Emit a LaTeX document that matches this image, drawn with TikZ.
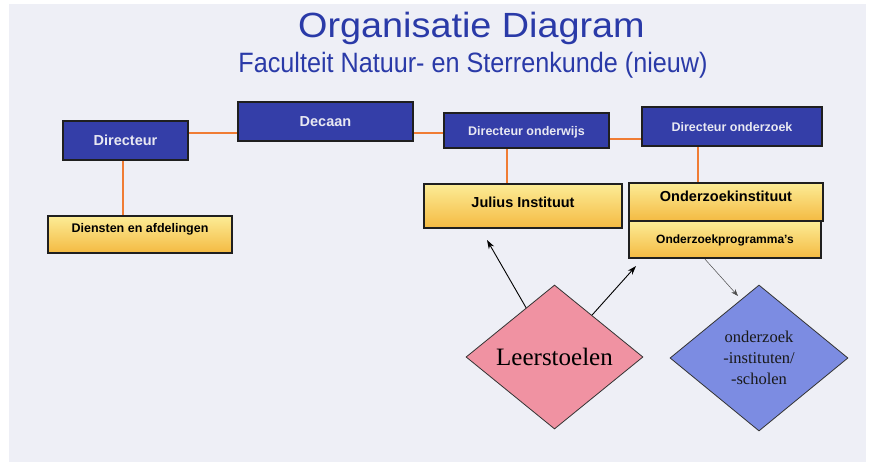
\documentclass[tikz,border=0pt]{standalone}
\usepackage{fontspec}
\setmainfont{Liberation Serif}
\setsansfont{Liberation Sans}
\usetikzlibrary{arrows.meta,shapes.geometric,positioning}
\tikzset{>={Stealth[width=6pt,length=9pt]}}

\definecolor{bgpaper}{RGB}{238,239,246}
\definecolor{titleblue}{RGB}{42,58,168}
\definecolor{boxblue}{RGB}{52,62,168}
\definecolor{boxtext}{RGB}{232,232,242}
\definecolor{goldtop}{RGB}{252,236,150}
\definecolor{goldbot}{RGB}{244,186,66}
\definecolor{linkorange}{RGB}{240,124,52}
\definecolor{leerpink}{RGB}{240,146,162}
\definecolor{onzblue}{RGB}{124,140,226}

\newcommand\fsz[1]{\fontsize{#1}{#1}\selectfont}

\tikzset{
  titletext/.style={text=titleblue, font=\sffamily, inner sep=0pt, anchor=base},
  headbox/.style={draw=black!88, line width=2.4pt, fill=boxblue, text=boxtext,
    font=\sffamily\bfseries, inner sep=0pt, text depth=0pt},
  unitbox/.style={draw=black!88, line width=2.4pt, top color=goldtop, bottom color=goldbot,
    text=black, font=\sffamily\bfseries, inner sep=0pt},
  link/.style={linkorange, line width=2.2pt},
  ruit/.style={diamond, draw=black!80, line width=0.8pt, inner sep=0pt},
}

\begin{document}
\begin{tikzpicture}[x=1pt, y=-1pt]

  \fill[white, use as bounding box] (0,0) rectangle (872,466);
  \fill[bgpaper] (9,4) rectangle (866,462);

  \node[titletext] (title) at (471.5,37.3)
    {\fsz{35}\scalebox{1.08}[1]{Organisatie Diagram}};
  \node[titletext] (subtitle) at (473,72.5)
    {\fsz{28}\scalebox{0.9}[1]{Faculteit Natuur- en Sterrenkunde (nieuw)}};

  % bestuur
  \node[headbox, minimum width=125pt, minimum height=39pt, font=\sffamily\bfseries\fsz{14.5}]
    (dir) at (125.5,140.5) {Directeur};
  \node[headbox, minimum width=175pt, minimum height=39pt, font=\sffamily\bfseries\fsz{14.5}]
    (dec) at (325.5,121.5) {Decaan};
  \node[headbox, minimum width=165pt, minimum height=35pt, font=\sffamily\bfseries\fsz{12.5}]
    (ondw) at (526.5,130.5) {Directeur onderwijs};
  \node[headbox, minimum width=180pt, minimum height=39pt, font=\sffamily\bfseries\fsz{12.5}]
    (ondz) at (732,126.5) {Directeur onderzoek};

  % eenheden
  \node[unitbox, minimum width=184pt, minimum height=37pt, font=\sffamily\bfseries\fsz{12.5},
    text height=9pt, text depth=13pt] (dienst) at (140,234.5) {Diensten en afdelingen};
  \node[unitbox, minimum width=198pt, minimum height=44pt, font=\sffamily\bfseries\fsz{14.5},
    text height=10.4pt, text depth=7pt] (jul) at (523,206) {Julius Instituut};
  \node[unitbox, minimum width=194pt, minimum height=38pt, font=\sffamily\bfseries\fsz{14.5},
    text height=10.4pt, text depth=12pt] (inst) at (726,202) {Onderzoekinstituut};
  \node[unitbox, minimum width=192pt, minimum height=37pt, font=\sffamily\bfseries\fsz{12},
    text height=8.6pt, text depth=0pt] (prog) at (725,239.5) {Onderzoekprogramma's};

  \draw[link] ([yshift=7.5pt]dir.east) -- ([yshift=7.5pt]dir.east -| dec.west);
  \draw[link] ([yshift=-2.5pt]ondw.west) -- ([yshift=-2.5pt]ondw.west -| dec.east);
  \draw[link] ([yshift=-8.5pt]ondw.east) -- ([yshift=-8.5pt]ondw.east -| ondz.west);
  \draw[link] ([xshift=-2.5pt]dir.south) -- ([xshift=-2.5pt]dir.south |- dienst.north);
  \draw[link] ([xshift=-19.5pt]ondw.south) -- ([xshift=-19.5pt]ondw.south |- jul.north);
  \draw[link] ([xshift=-34pt]ondz.south) -- ([xshift=-34pt]ondz.south |- inst.north);

  % ruiten
  \node[ruit, fill=leerpink, minimum width=177pt, minimum height=144pt, aspect=1.23,
    font=\fsz{25}] (leer) at (554.5,357) {Leerstoelen};
  \node[ruit, fill=onzblue, minimum width=178pt, minimum height=146pt, aspect=1.22,
    font=\fontsize{16.5}{21}\selectfont, text=black!90, align=center]
    (onz) at (759,358) {onderzoek\\-instituten/\\-scholen};

  \coordinate (tipjul) at (487,240);
  \coordinate (tipprog) at (636,266);
  \coordinate (tiponz) at (738,296);

  \draw[->, line width=0.9pt] (leer) -- (tipjul);
  \draw[->, line width=0.9pt] (leer) -- (tipprog);
  \draw[->, black!70, line width=0.5pt, >={Stealth[width=5pt,length=7pt]}]
    ([xshift=-20pt]prog.south) -- (tiponz);

\end{tikzpicture}
\end{document}
